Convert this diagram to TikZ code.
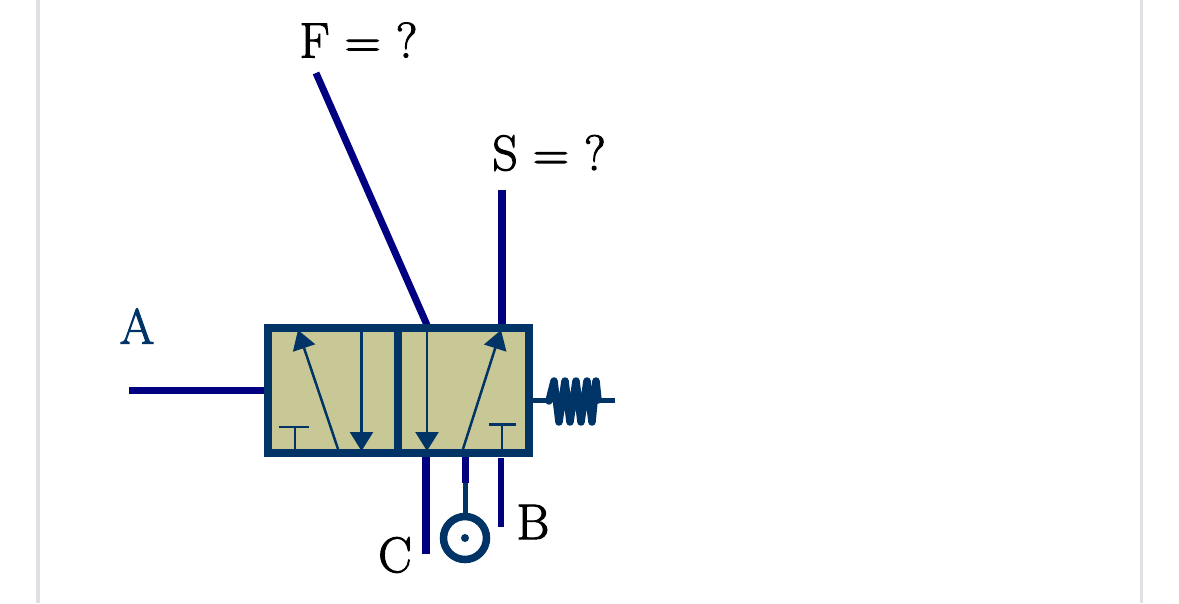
\documentclass[tikz,border=0pt]{standalone}
\usepackage{fontspec}
\setmainfont{Latin Modern Roman}[RawFeature={embolden=2}]
\definecolor{valve}{HTML}{003366}
\definecolor{pipe}{HTML}{000080}
\definecolor{body}{HTML}{C8C896}
\definecolor{edge}{HTML}{DDE1E6}
\usetikzlibrary{arrows.meta}
\tikzset{
  pipeline/.style={draw=pipe,line width=7pt},
  outline/.style={draw=valve,line width=7.5pt},
  thin line/.style={draw=valve,line width=2.5pt},
  flow/.style={draw=valve,line width=2.5pt,-{Triangle[length=19pt,width=23pt]}},
  lbl/.style={inner sep=0pt,font=\fontsize{50}{54}\selectfont},
}
\begin{document}
\begin{tikzpicture}[x=1pt,y=-1pt]
\useasboundingbox (0,0) rectangle (1179,603);
\fill[edge] (36,0) rectangle (39.5,603);
\fill[edge] (1140,0) rectangle (1143,603);
\node[lbl] (F) at (358.5,40) {F = ?};
\node[lbl] (S) at (549,153) {S = ?};
\node[lbl,text=valve] (A) at (137,326) {A};
\node[lbl] (B) at (533,522) {B};
\node[lbl] (C) at (395,555) {C};
\coordinate (Fend) at (316,73);
\coordinate (Fport) at (427,325);
\coordinate (Send) at (502,190);
\coordinate (Sport) at (502,325);
\coordinate (Aend) at (129,390);
\coordinate (Aport) at (266,390);
\coordinate (Cport) at (426,456);
\coordinate (Cend) at (426,554);
\coordinate (Bport) at (501,458);
\coordinate (Bend) at (501,527);
\coordinate (Mport) at (465,456);
\coordinate (Mjoin) at (465,483);
\coordinate (Gauge) at (465,538);
\draw[pipeline] (Fend) -- (Fport);
\draw[pipeline,line width=8pt] (Send) -- (Sport);
\draw[pipeline] (Aend) -- (Aport);
\draw[pipeline,line width=8pt] (Cport) -- (Cend);
\draw[pipeline,line width=6.5pt] (Bport) -- (Bend);
\draw[pipeline] (Mport) -- (Mjoin);
% valve body
\filldraw[outline,fill=body] (268,328) rectangle (529,453);
\draw[outline] (398,325) -- (398,456);
% flow arrows
\draw[flow] (338,449) -- (298,330);
\draw[flow] (361.5,328) -- (361.5,451);
\draw[flow] (427,328) -- (427,451);
\draw[flow] (463,449) -- (501,330);
% blocked ports
\draw[thin line] (295,450) -- (295,427) (279,427) -- (309,427);
\draw[thin line] (502,450) -- (502,424.5) (489,424.5) -- (516,424.5);
% gauge
\draw[draw=valve,line width=5pt] (Mjoin) -- (465,515);
\draw[draw=valve,line width=7.5pt,fill=white] (Gauge) circle (21.5);
\fill[valve] (Gauge) circle (4);
% spring
\draw[draw=valve,line width=5pt] (531,400.5) -- (548,400.5);
\draw[draw=valve,line width=5pt] (596,400.5) -- (615,400.5);
\draw[draw=valve,line width=7.5pt,line join=round,line cap=round] (549,401) -- (554,381) -- (559,422) -- (565,381) -- (570,422) -- (576,381) -- (581,422) -- (587,381) -- (592,422) -- (596,381) -- (598,400);
\end{tikzpicture}
\end{document}
